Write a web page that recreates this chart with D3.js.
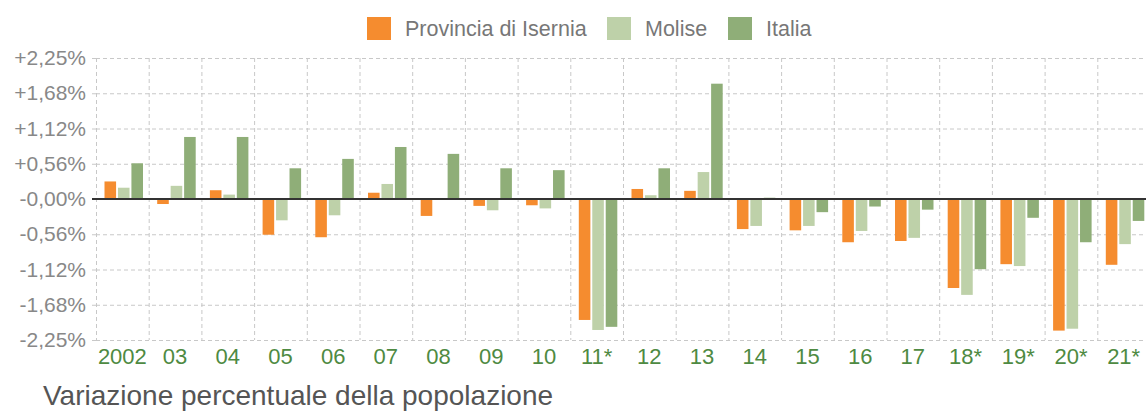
<!DOCTYPE html>
<html>
<head>
<meta charset="utf-8">
<script src="https://cdn.jsdelivr.net/npm/d3@7"></script>
<style>
  body { margin: 0; background: #fff; }
  text { font-family: "Liberation Sans", Arial, sans-serif; }
</style>
</head>
<body>
<div id="chart"></div>
<script>
// data
var years = ["2002", "03", "04", "05", "06", "07", "08", "09", "10", "11*",
             "12", "13", "14", "15", "16", "17", "18*", "19*", "20*", "21*"];
var isernia = [0.28, -0.08, 0.14, -0.57, -0.61, 0.10, -0.27, -0.11, -0.10, -1.93,
               0.16, 0.13, -0.48, -0.50, -0.69, -0.67, -1.42, -1.04, -2.10, -1.05];
var molise = [0.18, 0.21, 0.07, -0.34, -0.26, 0.24, 0.00, -0.18, -0.15, -2.09,
              0.06, 0.43, -0.43, -0.43, -0.51, -0.62, -1.53, -1.07, -2.07, -0.72];
var italia = [0.57, 0.99, 0.99, 0.49, 0.64, 0.83, 0.72, 0.49, 0.46, -2.04,
              0.49, 1.84, 0.02, -0.21, -0.12, -0.17, -1.12, -0.30, -0.69, -0.35];
var seriesNames = ["Provincia di Isernia", "Molise", "Italia"];
var tickValues = [2.25, 1.6875, 1.125, 0.5625, 0, -0.5625, -1.125, -1.6875, -2.25];
var tickLabels = ["+2,25%", "+1,68%", "+1,12%", "+0,56%", "-0,00%",
                  "-0,56%", "-1,12%", "-1,68%", "-2,25%"];

var colors = ["#f58c2f", "#bed1a9", "#8fae78"];

var svgWidth = 1146, svgHeight = 412;
var margin = { top: 58, right: -4, bottom: 72, left: 96 };
var width = svgWidth - margin.left - margin.right;
var height = svgHeight - margin.top - margin.bottom;

var svg = d3.select("#chart").append("svg")
  .attr("width", svgWidth)
  .attr("height", svgHeight);

var chartGroup = svg.append("g")
  .attr("transform", `translate(${margin.left}, ${margin.top})`);

// scales
var x0 = d3.scaleBand().domain(years).range([0, width]);
var x1 = d3.scaleBand().domain(seriesNames)
  .range([8.5, 47]).paddingInner(0.14);
var y = d3.scaleLinear().domain([-2.25, 2.25]).range([height, 0]);

// horizontal grid
var yGrid = chartGroup.append("g")
  .call(d3.axisLeft(y).tickValues(tickValues).tickSize(-width).tickFormat(""));
yGrid.select(".domain").remove();
yGrid.selectAll("line")
  .attr("stroke", "#c8c8c8")
  .attr("stroke-dasharray", "4,3");

// vertical grid at band edges
chartGroup.selectAll(".vgrid")
  .data(years)
  .enter()
  .append("line")
  .attr("class", "vgrid")
  .attr("x1", d => x0(d) + 0.5)
  .attr("x2", d => x0(d) + 0.5)
  .attr("y1", 0)
  .attr("y2", height)
  .attr("stroke", "#c8c8c8")
  .attr("stroke-dasharray", "4,3");

// y axis labels
var yAxis = chartGroup.append("g")
  .call(d3.axisLeft(y).tickValues(tickValues).tickSize(4).tickPadding(6)
    .tickFormat((d, i) => tickLabels[i]));
yAxis.select(".domain").remove();
yAxis.selectAll("line").attr("stroke", "#c8c8c8");
yAxis.selectAll("text")
  .attr("fill", "#888")
  .style("font-size", "21px");

// bars
var table = years.map((yr, i) => ({
  year: yr,
  values: [isernia[i], molise[i], italia[i]]
}));

var groups = chartGroup.selectAll(".year")
  .data(table)
  .enter()
  .append("g")
  .attr("transform", d => `translate(${x0(d.year)},0)`);

groups.selectAll("rect")
  .data(d => d.values.map((v, j) => ({ name: seriesNames[j], value: v, j: j })))
  .enter()
  .append("rect")
  .attr("x", d => x1(d.name))
  .attr("width", x1.bandwidth())
  .attr("y", d => y(Math.max(0, d.value)))
  .attr("height", d => Math.abs(y(d.value) - y(0)))
  .attr("fill", d => colors[d.j]);

// zero line
chartGroup.append("line")
  .attr("x1", -4)
  .attr("x2", width)
  .attr("y1", y(0))
  .attr("y2", y(0))
  .attr("stroke", "#333")
  .attr("stroke-width", 2);

// x axis labels
var xAxis = chartGroup.append("g")
  .attr("transform", `translate(0, ${height})`)
  .call(d3.axisBottom(x0).tickSize(0).tickPadding(8));
xAxis.select(".domain").remove();
xAxis.selectAll("text")
  .attr("fill", "#4e8a42")
  .style("font-size", "22px");

// legend
var legendX = [367, 607, 728];
var legend = svg.selectAll(".legend")
  .data(seriesNames)
  .enter()
  .append("g")
  .attr("transform", (d, i) => `translate(${legendX[i]}, 17)`);

legend.append("rect")
  .attr("width", 24)
  .attr("height", 23)
  .attr("fill", (d, i) => colors[i]);

legend.append("text")
  .attr("x", 38)
  .attr("y", 19)
  .attr("fill", "#777")
  .style("font-size", "21.5px")
  .text(d => d);

// title
svg.append("text")
  .attr("x", 43)
  .attr("y", 405)
  .attr("fill", "#555")
  .style("font-size", "28px")
  .text("Variazione percentuale della popolazione");
</script>
</body>
</html>
